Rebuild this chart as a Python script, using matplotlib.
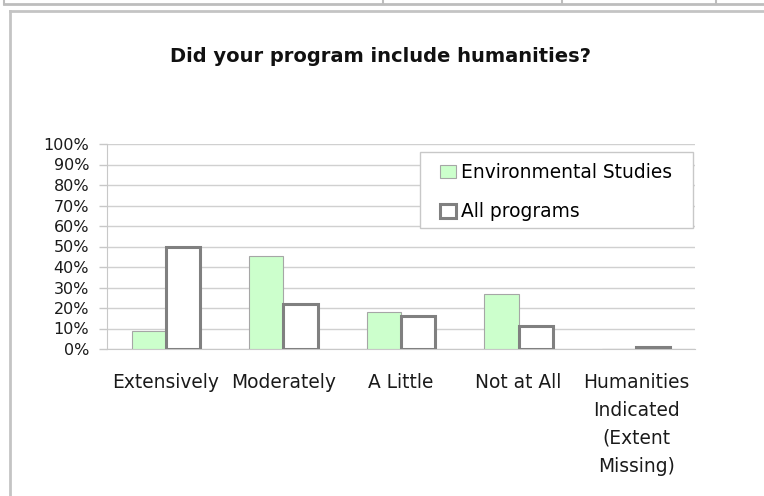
import matplotlib
matplotlib.use("Agg")
import matplotlib.pyplot as plt
from matplotlib.lines import Line2D
from matplotlib.patches import Rectangle
import numpy as np

categories = ["Extensively", "Moderately", "A Little", "Not at All",
              "Humanities\nIndicated\n(Extent\nMissing)"]
env_studies = [9, 45.5, 18, 27, 0]
all_programs = [50, 22, 16, 11, 1]
series_names = ["Environmental Studies", "All programs"]
yticks = list(range(0, 101, 10))
ytick_labels = [f"{t}%" for t in yticks]
title = "Did your program include humanities?"

W, H = 764, 496
plt.rcParams['font.family'] = ['DejaVu Sans']
fig = plt.figure(figsize=(W / 100, H / 100), dpi=100)

def fx(px):
    return px / W

def fy(py):
    return 1 - py / H

# outer decorations (document table line + chart frame)
fig.add_artist(Line2D([fx(4), 1], [fy(4), fy(4)], color="#bdbdbd", lw=2, transform=fig.transFigure))
for xv in [4, 383, 562, 716]:
    fig.add_artist(Line2D([fx(xv), fx(xv)], [fy(4), 1], color="#bdbdbd", lw=1.5, transform=fig.transFigure))
fig.add_artist(Line2D([fx(10), 1], [fy(11), fy(11)], color="#c4c4c4", lw=2, transform=fig.transFigure))
fig.add_artist(Line2D([fx(10), fx(10)], [0, fy(11)], color="#c4c4c4", lw=2, transform=fig.transFigure))

# plot area
left, right, top, bottom = 107, 695, 144, 349
ax = fig.add_axes([fx(left), fy(bottom), fx(right - left), (bottom - top) / H])

x = np.arange(len(categories))
bw = 0.29
ax.bar(x - bw / 2, env_studies, width=bw, color="#ccffcc", edgecolor="#a6a6a6", linewidth=0.8,
       label=series_names[0], zorder=3)
ax.bar(x + bw / 2, all_programs, width=bw, color="white", edgecolor="#808080", linewidth=2.2,
       label=series_names[1], zorder=3)

ax.set_xlim(-0.5, len(categories) - 0.5)
ax.set_ylim(0, 100)
ax.set_yticks(yticks)
ax.set_yticklabels(ytick_labels, fontsize=11.5, color="#1a1a1a")
ax.yaxis.grid(True, color="#d0d0d0", linewidth=1)
ax.set_axisbelow(True)
ax.tick_params(axis='y', length=5.8, width=1, color="#c8c8c8", pad=7)
ax.tick_params(axis='x', length=0, pad=17)
ax.set_xticks(x)
ax.set_xticklabels(categories, fontsize=13.4, color="#1a1a1a", linespacing=1.6, va='top')
for s in ["top", "right"]:
    ax.spines[s].set_visible(False)
ax.spines["left"].set_color("#c8c8c8")
ax.spines["bottom"].set_color("#c8c8c8")

# legend with frame drawn as a separate box inside the axes
ax.add_patch(Rectangle((fx(420), fy(228)), fx(693 - 420), (228 - 152) / H, transform=fig.transFigure,
                       facecolor="white", edgecolor="#c8c8c8", linewidth=1, zorder=4, clip_on=False))
leg = ax.legend(loc="upper left", bbox_to_anchor=(fx(440), fy(163)), bbox_transform=fig.transFigure,
                fontsize=13.4, frameon=False, handlelength=0.85, handleheight=0.75, handletextpad=0.3,
                labelspacing=1.1, borderpad=0, borderaxespad=0)
leg.set_zorder(6)

fig.text(fx(380), fy(56), title, ha="center", va="center", fontsize=14, fontweight="bold", color="#111111")

fig.savefig("out.png", dpi=100)
